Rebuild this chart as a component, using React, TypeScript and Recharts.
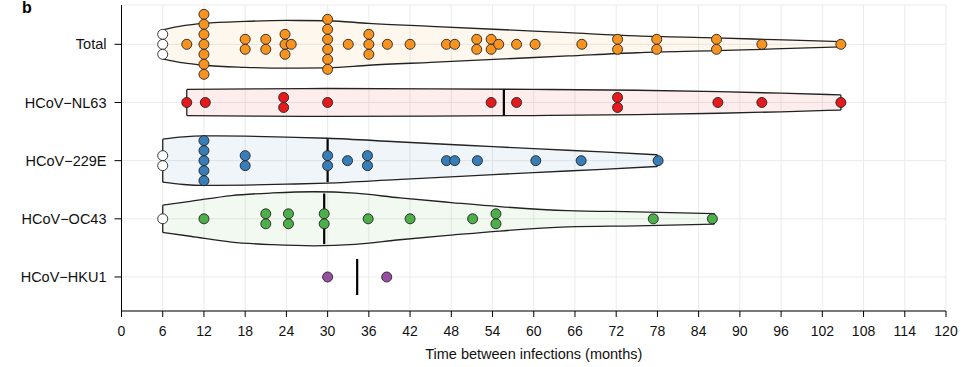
import React from 'react';
import { Area, CartesianGrid, ComposedChart, ReferenceLine, Scatter, XAxis, YAxis } from 'recharts';

const CATEGORIES = ['Total', 'HCoV\u2212NL63', 'HCoV\u2212229E', 'HCoV\u2212OC43', 'HCoV\u2212HKU1'];
const COLORS = ['#f7931e', '#e41a1c', '#377eb8', '#4daf4a', '#984ea3'];
const X_TICKS = [0, 6, 12, 18, 24, 30, 36, 42, 48, 54, 60, 66, 72, 78, 84, 90, 96, 102, 108, 114, 120];

// months between infections; repeated values are stacked dots
const totalMonths = [9.5, 12, 12, 12, 12, 12, 12, 12, 18, 18, 21, 21, 23.8, 23.8, 23.8, 24.7, 30, 30, 30, 30, 30, 30,
  33, 36, 36, 36, 38.7, 42, 47.3, 48.5, 51.7, 51.7, 53.8, 53.8, 54.9, 57.5, 60.2, 67, 72.2, 72.2, 77.9, 77.9,
  86.6, 86.6, 93.2, 104.7];
const nl63Months = [9.5, 12.2, 23.6, 23.6, 30, 53.8, 57.5, 72.2, 72.2, 86.8, 93.2, 104.7];
const e229Months = [12, 12, 12, 12, 12, 18, 18, 30, 30, 32.9, 35.8, 35.8, 47.3, 48.5, 51.8, 60.3, 66.9, 78.1];
const oc43Months = [12, 21, 21, 24.3, 24.3, 29.5, 29.5, 35.9, 42, 51.1, 54.5, 54.5, 77.4, 86];
const hku1Months = [30, 38.6];

// open (white) dots
const totalOpen = [6, 6, 6];
const e229Open = [6, 6];
const oc43Open = [6];

// violin outlines: [month, half width in row units]
const totalViolin = [[6, 0.25], [9, 0.32], [12, 0.36], [18, 0.395], [24, 0.41], [30, 0.405], [36, 0.36], [45, 0.31],
  [55, 0.255], [65, 0.2], [75, 0.145], [86.5, 0.11], [95, 0.08], [104.7, 0.045]];
const nl63Violin = [[9.5, 0.225], [20, 0.235], [30, 0.24], [45, 0.235], [60, 0.225], [75, 0.21], [87, 0.185],
  [96, 0.16], [104.7, 0.13]];
const e229Violin = [[6, 0.37], [9, 0.41], [12, 0.425], [18, 0.42], [24, 0.405], [30, 0.385], [40, 0.325],
  [50, 0.265], [60, 0.205], [70, 0.15], [78, 0.1]];
const oc43Violin = [[6, 0.235], [10, 0.3], [16, 0.4], [22, 0.445], [28, 0.465], [34, 0.44], [40.5, 0.36],
  [48, 0.28], [55, 0.21], [65, 0.14], [75, 0.12], [86.3, 0.09]];

// half length of the median bar, per row
const medianHalf = [0.405, 0.225, 0.37, 0.435, 0.31];

const DOT_STEP = 0.172;
const Y_DOMAIN = [-0.676, 4.585];
const FONT = '"Liberation Sans", Arial, sans-serif';

const stack = (months: number[], row: number) => {
  const counts = new Map<number, number>();
  months.forEach((m) => counts.set(m, (counts.get(m) || 0) + 1));
  const out: { x: number; y: number }[] = [];
  counts.forEach((n, m) => {
    for (let i = 0; i < n; i++) out.push({ x: m, y: row + (i - (n - 1) / 2) * DOT_STEP });
  });
  return out;
};

const median = (vals: number[]) => {
  const s = [...vals].sort((a, b) => a - b);
  const h = Math.floor(s.length / 2);
  return s.length % 2 ? s[h] : (s[h - 1] + s[h]) / 2;
};

const violinData = (outline: number[][], row: number) =>
  outline.map(([m, w]) => ({ x: m, r: [row - w, row + w] }));

const rows = [
  { filled: totalMonths, open: totalOpen, violin: totalViolin },
  { filled: nl63Months, open: [], violin: nl63Violin },
  { filled: e229Months, open: e229Open, violin: e229Violin },
  { filled: oc43Months, open: oc43Open, violin: oc43Violin },
  { filled: hku1Months, open: [], violin: null },
];

const dot = (fill: string) => (p: any) => (
  <circle cx={p.cx} cy={p.cy} r={5} fill={fill} stroke="#222" strokeWidth={0.9} />
);

export default function App() {
  return (
    <div style={{ position: 'absolute', left: 0, top: 0, width: 974, height: 367, background: '#fff' }}>
      <ComposedChart width={974} height={367} margin={{ top: 5, right: 28, bottom: 26, left: 0.5 }}>
        <CartesianGrid stroke="#ebebeb" strokeWidth={1} />
        <XAxis
          type="number"
          dataKey="x"
          domain={[0, 120]}
          ticks={X_TICKS}
          interval={0}
          height={30}
          tickSize={6}
          tickMargin={9}
          stroke="#000"
          tick={{ fill: '#111', fontSize: 14, fontFamily: FONT }}
          label={{ value: 'Time between infections (months)', position: 'bottom', offset: 8, fill: '#111', fontSize: 14.5, fontFamily: FONT }}
        />
        <XAxis xAxisId="top" orientation="top" type="number" domain={[0, 120]} height={0} tick={false} tickLine={false} stroke="#000" strokeWidth={1.3} />
        <YAxis
          type="number"
          dataKey="y"
          domain={Y_DOMAIN}
          allowDataOverflow
          reversed
          ticks={[0, 1, 2, 3, 4]}
          interval={0}
          tickFormatter={(i: number) => CATEGORIES[i]}
          width={121}
          tickSize={7}
          tickMargin={8}
          stroke="#000"
          tick={{ fill: '#111', fontSize: 14.5, fontFamily: FONT }}
        />
        <YAxis yAxisId="right" orientation="right" type="number" domain={Y_DOMAIN} width={0} tick={false} tickLine={false} stroke="#000" strokeWidth={1.3} />
        {rows.map((r, i) =>
          r.violin ? (
            <Area
              key={`v${i}`}
              data={violinData(r.violin, i)}
              dataKey="r"
              type="monotone"
              stroke="#222"
              strokeWidth={1.3}
              fill={COLORS[i]}
              fillOpacity={0.08}
              isAnimationActive={false}
              dot={false}
              activeDot={false}
            />
          ) : null
        )}
        {rows.map((r, i) =>
          r.violin
            ? [r.violin[0], r.violin[r.violin.length - 1]].map(([m, w], j) => (
                <ReferenceLine
                  key={`e${i}${j}`}
                  segment={[{ x: m, y: i - w }, { x: m, y: i + w }]}
                  stroke="#222"
                  strokeWidth={1.3}
                  ifOverflow="visible"
                />
              ))
            : null
        )}
        {rows.map((r, i) => (
          <ReferenceLine
            key={`m${i}`}
            segment={[
              { x: median([...r.filled, ...r.open]), y: i - medianHalf[i] },
              { x: median([...r.filled, ...r.open]), y: i + medianHalf[i] },
            ]}
            stroke="#000"
            strokeWidth={2.2}
            ifOverflow="visible"
          />
        ))}
        {rows.map((r, i) => (
          <Scatter key={`d${i}`} data={stack(r.filled, i)} shape={dot(COLORS[i])} isAnimationActive={false} />
        ))}
        {rows.map((r, i) =>
          r.open.length ? (
            <Scatter key={`o${i}`} data={stack(r.open, i)} shape={dot('#fff')} isAnimationActive={false} />
          ) : null
        )}
      </ComposedChart>
      <div style={{ position: 'absolute', left: 22, top: 0, zIndex: 2, font: `bold 16px ${FONT}`, lineHeight: '16px' }}>b</div>
    </div>
  );
}
